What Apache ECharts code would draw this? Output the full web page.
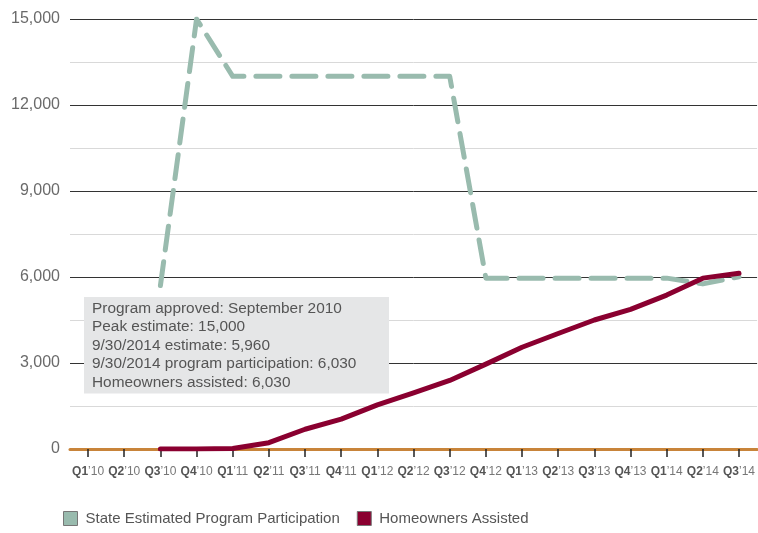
<!DOCTYPE html>
<html>
<head>
<meta charset="utf-8">
<script src="https://cdn.jsdelivr.net/npm/echarts@6/dist/echarts.min.js"></script>
<style>html,body{margin:0;padding:0;background:#fff}#c{width:758px;height:533px}</style>
</head>
<body>
<div id="c"></div>
<script>
const quarters = ['Q1','Q2','Q3','Q4','Q1','Q2','Q3','Q4','Q1','Q2','Q3','Q4','Q1','Q2','Q3','Q4','Q1','Q2','Q3'];
const years = ['10','10','10','10','11','11','11','11','12','12','12','12','13','13','13','13','14','14','14'];
const categories = quarters.map((q, i) => q + '|' + years[i]);
const stateEstimate = [null, null, 5700, 15000, 13000, 13000, 13000, 13000, 13000, 13000, 13000, 5960, 5960, 5960, 5960, 5960, 5960, 5760, 6010];
const homeownersAssisted = [null, null, 0, 0, 20, 220, 690, 1040, 1540, 1960, 2390, 2960, 3550, 4030, 4500, 4870, 5370, 5960, 6130];
const yTickLabels = ['0', '3,000', '6,000', '9,000', '12,000', '15,000'];
const noteLines = [
  'Program approved: September 2010',
  'Peak estimate: 15,000',
  '9/30/2014 estimate: 5,960',
  '9/30/2014 program participation: 6,030',
  'Homeowners assisted: 6,030'
];

const chart = echarts.init(document.getElementById('c'));
chart.setOption({
  animation: false,
  backgroundColor: '#fff',
  grid: { left: 70, right: 0, top: 19, bottom: 84 },
  xAxis: {
    type: 'category',
    data: categories,
    boundaryGap: true,
    axisLine: { show: true, lineStyle: { color: '#c8843a', width: 3 } },
    axisTick: { show: true, alignWithLabel: true, length: 8, lineStyle: { color: '#222', width: 1.5 } },
    axisLabel: {
      interval: 0,
      margin: 17,
      formatter: function (v) {
        const p = v.split('|');
        return '{b|' + p[0] + '}{n|\u2019' + p[1] + '}';
      },
      rich: {
        b: { fontFamily: 'Liberation Sans, Arial, sans-serif', fontWeight: 'bold', fontSize: 12, color: '#555' },
        n: { fontFamily: 'Liberation Sans, Arial, sans-serif', fontSize: 12, color: '#777' }
      }
    },
    splitLine: { show: false }
  },
  yAxis: {
    type: 'value',
    min: 0,
    max: 15000,
    interval: 1500,
    axisLine: { show: false },
    axisTick: { show: false },
    axisLabel: {
      margin: 10,
      fontFamily: 'Liberation Sans, Arial, sans-serif',
      fontSize: 16,
      color: '#6a6a6a',
      padding: [0, 0, 12, 0],
      formatter: function (v) {
        if (v % 3000 !== 0) return '';
        return yTickLabels[v / 3000];
      }
    },
    splitLine: { show: true, lineStyle: { color: ['#333', '#d9d9d9'], width: 1 } }
  },
  legend: {
    left: 63,
    top: 511,
    padding: 0,
    icon: 'rect',
    itemWidth: 14,
    itemHeight: 14,
    itemGap: 17,
    textStyle: { fontFamily: 'Liberation Sans, Arial, sans-serif', fontSize: 15, color: '#555', padding: [0, 0, 0, 3] },
    data: [
      { name: 'State Estimated Program Participation', itemStyle: { color: '#99bbae', borderColor: '#777', borderWidth: 1 } },
      { name: 'Homeowners Assisted', itemStyle: { color: '#8a0030', borderColor: '#777', borderWidth: 1 } }
    ]
  },
  graphic: [
    {
      type: 'text',
      left: 84,
      top: 297,
      z: 10,
      style: {
        text: noteLines.join('\n'),
        fontFamily: 'Liberation Sans, Arial, sans-serif',
        fontSize: 15.4,
        lineHeight: 18.5,
        fill: '#555',
        backgroundColor: '#e5e6e7',
        padding: [2, 8, 2, 8],
        width: 289
      }
    }
  ],
  series: [
    {
      name: 'State Estimated Program Participation',
      type: 'line',
      data: stateEstimate,
      showSymbol: false,
      symbol: 'none',
      z: 3,
      lineStyle: { color: '#99bbae', width: 5, type: [24, 12], cap: 'round', join: 'round' },
      itemStyle: { color: '#99bbae' }
    },
    {
      name: 'Homeowners Assisted',
      type: 'line',
      data: homeownersAssisted,
      showSymbol: false,
      symbol: 'none',
      z: 4,
      lineStyle: { color: '#8a0030', width: 5, cap: 'round', join: 'round' },
      itemStyle: { color: '#8a0030' }
    }
  ]
});
</script>
</body>
</html>
